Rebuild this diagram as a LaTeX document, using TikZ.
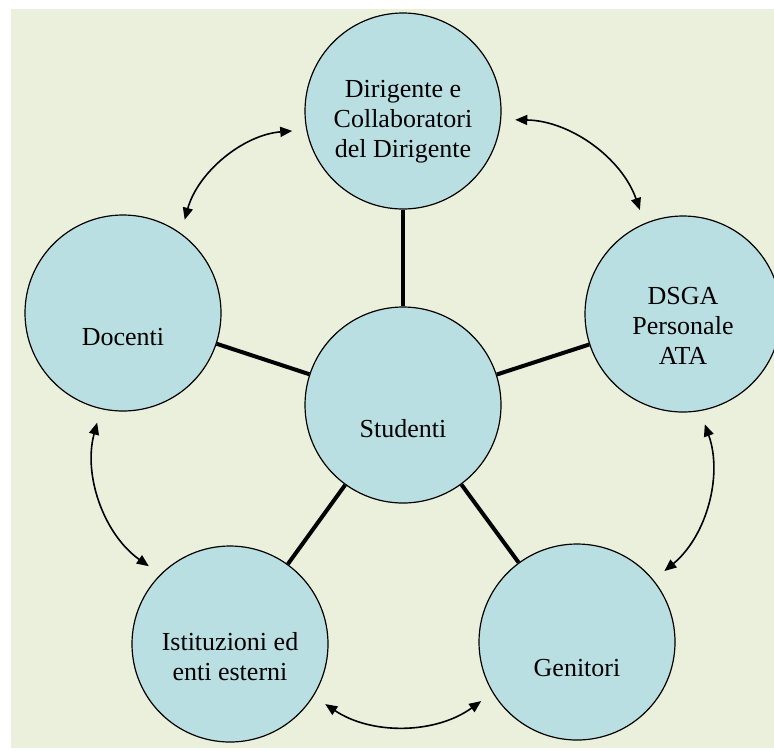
\documentclass[tikz,border=0pt]{standalone}
\usepackage{fontspec}
\setmainfont{Liberation Serif}
\usepackage{xcolor}
\usepackage{tikz}
\usetikzlibrary{
    arrows.meta,
    positioning
}
\definecolor{sfondo}{RGB}{234,240,220}
\definecolor{cerchio}{RGB}{185,223,227}

\begin{document}
\begin{tikzpicture}[x=0.5pt,y=-0.5pt,>={Triangle[length=6pt,width=5pt]},semithick]
    \tikzstyle{ente}=[circle, draw, fill=cerchio, line width=0.6pt, minimum size=98pt, inner sep=0pt]
    \tikzstyle{testo}=[align=center, font=\fontsize{13}{15}\selectfont]
    \tikzstyle{raggio}=[line width=2pt]
    \tikzstyle{scambio}=[<->, line width=0.8pt, shorten >=7pt, shorten <=7pt, bend left=35]
    \useasboundingbox (0,0) rectangle (774,750);
    \fill[sfondo] (11,9) rectangle (774,748);
    \node[ente] (dir) at (403,111) {};
    \node[ente] (doc) at (123,313) {};
    \node[ente] (dsga) at (683,314) {};
    \node[ente] (stud) at (403,405) {};
    \node[ente] (ist) at (230,644) {};
    \node[ente] (gen) at (577,642) {};
    \node[testo] (dirT) at ([yshift=-5.5pt]dir.center) {Dirigente e\\Collaboratori\\del Dirigente};
    \node[testo] (docT) at ([yshift=-12pt]doc.center) {Docenti};
    \node[testo] (dsgaT) at ([yshift=-6pt]dsga.center) {DSGA\\Personale\\ATA};
    \node[testo] (studT) at ([yshift=-12pt]stud.center) {Studenti};
    \node[testo] (istT) at ([yshift=-6.5pt]ist.center) {Istituzioni ed\\enti esterni};
    \node[testo] (genT) at ([yshift=-13pt]gen.center) {Genitori};
    \draw[raggio] (stud) -- (dir);
    \draw[raggio] (stud) -- (doc);
    \draw[raggio] (stud) -- (dsga);
    \draw[raggio] (stud) -- (ist);
    \draw[raggio] (stud) -- (gen);
    \draw[scambio] (dir.355) to (dsga.113);
    \draw[scambio] (dsga.280) to (gen.39);
    \draw[scambio] (gen.211) to (ist.328);
    \draw[scambio] (ist.135) to (doc.257);
    \draw[scambio] (doc.54) to (dir.191);
\end{tikzpicture}
\end{document}
